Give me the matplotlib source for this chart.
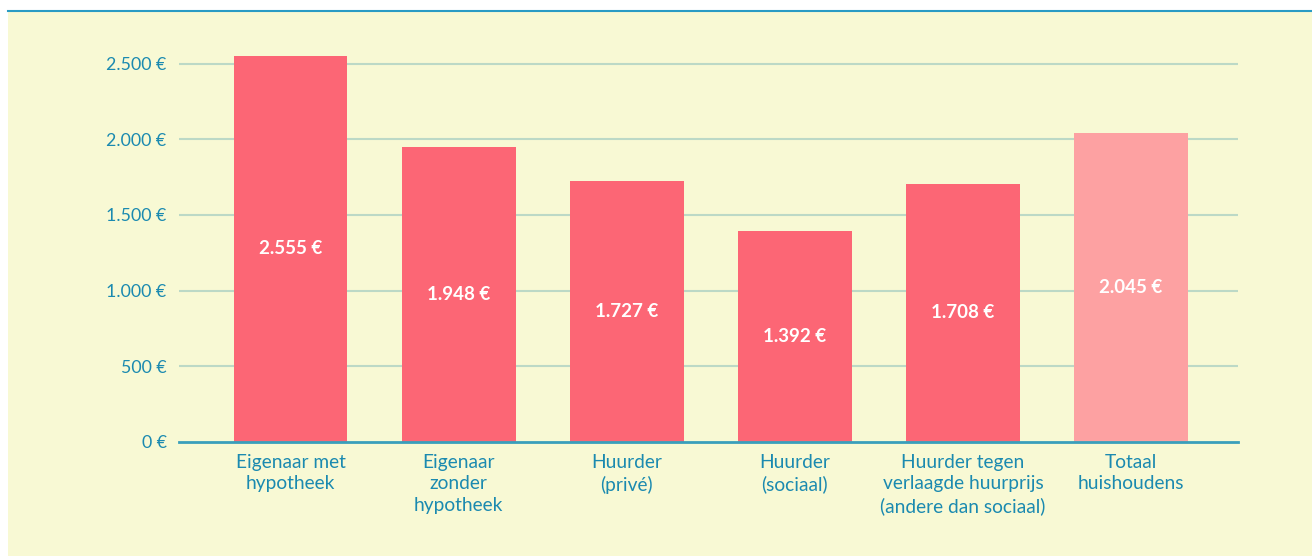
import numpy as np
import matplotlib.pyplot as plt

categories = ["Eigenaar met\nhypotheek", "Eigenaar\nzonder\nhypotheek", "Huurder\n(privé)",
              "Huurder\n(sociaal)", "Huurder tegen\nverlaagde huurprijs\n(andere dan sociaal)",
              "Totaal\nhuishoudens"]
values = [2555, 1948, 1727, 1392, 1708, 2045]
value_labels = ["2.555 €", "1.948 €", "1.727 €", "1.392 €", "1.708 €", "2.045 €"]
yticks = [0, 500, 1000, 1500, 2000, 2500]
ytick_labels = ["0 €", "500 €", "1.000 €", "1.500 €", "2.000 €", "2.500 €"]

bg = "#F8F9D4"
blue = "#1B8AB0"
red = "#FC6675"
pink = "#FDA1A2"

plt.rcParams['font.family'] = ['Lato', 'DejaVu Sans']

fig = plt.figure(figsize=(13.12, 5.56), dpi=100)
fig.patch.set_facecolor("white")
# yellow panel + blue top rule
fig.patches.append(plt.Rectangle((8/1312, 0), 1 - 8/1312, 1 - 11/556, transform=fig.transFigure,
                                 facecolor=bg, edgecolor="none", zorder=-5))
fig.lines.append(plt.Line2D([8/1312, 1], [1 - 10.5/556, 1 - 10.5/556], transform=fig.transFigure,
                            color="#2A9BC4", lw=1.5, zorder=-4))

ax = fig.add_axes([179/1312, 114.3/556, 1059/1312, 393/556])
ax.set_facecolor("none")

x = np.arange(len(values))
colors = [red] * (len(values) - 1) + [pink]
bars = ax.bar(x, values, width=0.676, color=colors, zorder=3)

for xi, v, lab in zip(x, values, value_labels):
    ax.text(xi, v / 2, lab, ha="center", va="center", color="white",
            fontsize=13.5, fontweight="bold", zorder=4)

ax.set_xlim(-0.664, 5.636)
ax.set_ylim(0, 2600)
ax.set_yticks(yticks)
ax.set_yticklabels(ytick_labels)
ax.set_xticks(x)
ax.set_xticklabels(categories, linespacing=1.3)

for t in yticks[1:]:
    ax.axhline(t, color="#BCD9C6", lw=1.5, zorder=1)
ax.axhline(0, color="#3A9FBB", lw=2, zorder=5, clip_on=False)

for s in ax.spines.values():
    s.set_visible(False)
ax.tick_params(axis="y", length=0, labelsize=12.8, labelcolor=blue, pad=9)
ax.tick_params(axis="x", length=0, labelsize=13.8, labelcolor=blue, pad=9)

fig.savefig("out.png", dpi=100, facecolor=fig.get_facecolor())
